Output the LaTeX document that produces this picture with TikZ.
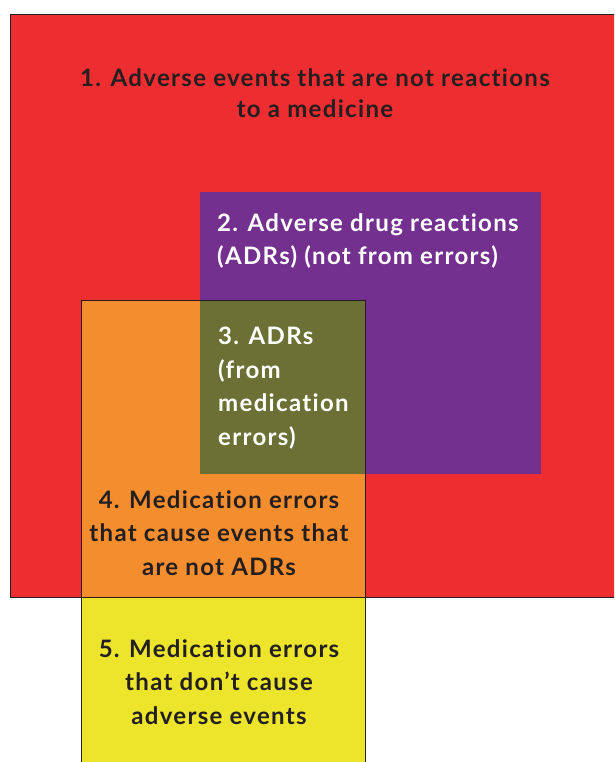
\documentclass[tikz,border=0pt]{standalone}
\usepackage{fontspec}
\setmainfont{Lato}[Ligatures=NoCommon, LetterSpace=5.5]
\definecolor{redbox}{HTML}{EE2D31}
\definecolor{purplebox}{HTML}{73308F}
\definecolor{orangebox}{HTML}{F48D2E}
\definecolor{olivebox}{HTML}{6D7034}
\definecolor{yellowbox}{HTML}{EDE52C}
\definecolor{darktext}{HTML}{231F20}
\tikzset{
  label/.style={font=\bfseries\fontsize{24}{33.5}\selectfont, inner sep=0pt},
}
\begin{document}
\begin{tikzpicture}[x=1pt,y=-1pt]

    % Page frame
    \useasboundingbox (0,0) rectangle (614,762);
    \clip (0,0) rectangle (614,762);

    % Define the corners of the boxes
    \coordinate (R1) at (10, 15);     % Top left of red box
    \coordinate (R2) at (620, 597);   % Bottom right of red box
    \coordinate (P1) at (200, 192);   % Top left of purple box
    \coordinate (P2) at (541, 474);   % Bottom right of purple box
    \coordinate (O1) at (81, 300);    % Top left of orange box
    \coordinate (O2) at (365, 597);   % Bottom right of orange box
    \coordinate (Y1) at (81, 597);    % Top left of yellow box
    \coordinate (Y2) at (365, 770);   % Bottom right of yellow box

    % Red box
    \filldraw[fill=redbox, draw=darktext, line width=1pt] (R1) rectangle (R2);

    % Purple box
    \fill[purplebox] (P1) rectangle (P2);

    % Orange box
    \fill[orangebox] (O1) rectangle (O2);

    % Overlap of purple and orange
    \fill[olivebox] (P1 |- O1) rectangle (O2 |- P2);
    \draw[darktext, line width=1pt] (O1) rectangle (O2);

    % Yellow box
    \filldraw[fill=yellowbox, draw=darktext, line width=1pt] (Y1) rectangle (Y2);

    % Label box 1
    \node[label, font=\bfseries\fontsize{24}{30.5}\selectfont, text=darktext, align=center] (t1) at (315, 93)
      {1. Adverse events that are not reactions\\to a medicine};

    % Label box 2
    \node[label, text=white, align=left, anchor=west] (t2) at (217, 241)
      {2. Adverse drug reactions\\(ADRs) (not from errors)};

    % Label box 3
    \node[label, text=white, align=left, anchor=west] (t3) at (218, 388)
      {3. ADRs\\(from\\medication\\errors)};

    % Label box 4
    \node[label, text=darktext, align=center] (t4) at (219, 533)
      {4. Medication errors\\that cause events that\\are not ADRs};

    % Label box 5
    \node[label, text=darktext, align=center] (t5) at (219, 682)
      {5. Medication errors\\that don’t cause\\adverse events};

\end{tikzpicture}
\end{document}
